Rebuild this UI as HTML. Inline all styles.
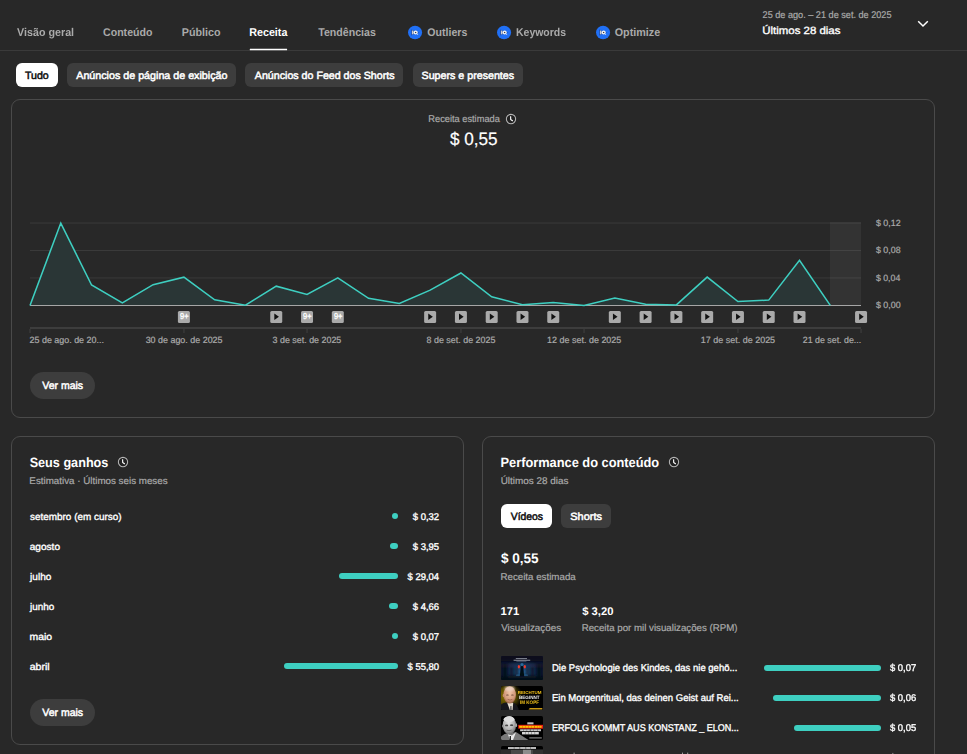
<!DOCTYPE html>
<html lang="pt-BR"><head><meta charset="utf-8"><title>Receita</title>
<style>
html,body{margin:0;padding:0;background:#282828;}
body{width:967px;height:754px;position:relative;overflow:hidden;font-family:"Liberation Sans",sans-serif;}
.abs{position:absolute;}
.t{position:absolute;white-space:pre;display:block;transform-origin:0 50%;text-rendering:geometricPrecision;}
.card{position:absolute;border:1px solid #4a4a4a;border-radius:9px;box-sizing:border-box;background:#282828;}
.chip{position:absolute;height:24px;border-radius:6px;background:#3d3d3d;}
.chip.on{background:#ffffff;}
.pill{position:absolute;height:27px;border-radius:14px;background:#3d3d3d;}
.bar{position:absolute;height:6.4px;border-radius:3.2px;background:#3ecfc1;}
</style></head><body>
<div class="abs" style="left:0;top:50px;width:967px;height:1px;background:#3a3a3a"></div>
<svg class="abs" style="left:240px;top:44px" width="60" height="10" viewBox="240 44 60 10"><rect x="249.8" y="48.65" width="37.3" height="1.6" rx="0.3" fill="#ffffff"/></svg>
<svg class="abs" style="left:916px;top:18px" width="14" height="12" viewBox="0 0 14 12"><path d="M2.2 3.2 L7 8 L11.8 3.2" fill="none" stroke="#ffffff" stroke-width="1.5"/></svg>
<svg class="abs" style="left:407px;top:24px" width="16" height="16" viewBox="-8 -8 16 16"><ellipse cx="0.05" cy="0.45" rx="7.05" ry="6.7" fill="#2070f6"/><path d="M-3.9 -2.6 L4.2 0.5 L-3.9 3.5 Z" fill="#1747a8" opacity="0.9"/><rect x="-3.1" y="-1.45" width="1.5" height="3.8" fill="#cfcfcf"/><circle cx="0.65" cy="0.5" r="2.1" fill="#f2f2f2"/><path d="M1.7 1.6 L2.9 2.8" stroke="#e8e8e8" stroke-width="0.9"/><path d="M0.1 -0.35 L1.7 0.5 L0.1 1.35 Z" fill="#0c1426"/></svg><svg class="abs" style="left:496px;top:24px" width="16" height="16" viewBox="-8 -8 16 16"><ellipse cx="0.05" cy="0.45" rx="7.05" ry="6.7" fill="#2070f6"/><path d="M-3.9 -2.6 L4.2 0.5 L-3.9 3.5 Z" fill="#1747a8" opacity="0.9"/><rect x="-3.1" y="-1.45" width="1.5" height="3.8" fill="#cfcfcf"/><circle cx="0.65" cy="0.5" r="2.1" fill="#f2f2f2"/><path d="M1.7 1.6 L2.9 2.8" stroke="#e8e8e8" stroke-width="0.9"/><path d="M0.1 -0.35 L1.7 0.5 L0.1 1.35 Z" fill="#0c1426"/></svg><svg class="abs" style="left:594.6px;top:24px" width="16" height="16" viewBox="-8 -8 16 16"><ellipse cx="0.05" cy="0.45" rx="7.05" ry="6.7" fill="#2070f6"/><path d="M-3.9 -2.6 L4.2 0.5 L-3.9 3.5 Z" fill="#1747a8" opacity="0.9"/><rect x="-3.1" y="-1.45" width="1.5" height="3.8" fill="#cfcfcf"/><circle cx="0.65" cy="0.5" r="2.1" fill="#f2f2f2"/><path d="M1.7 1.6 L2.9 2.8" stroke="#e8e8e8" stroke-width="0.9"/><path d="M0.1 -0.35 L1.7 0.5 L0.1 1.35 Z" fill="#0c1426"/></svg>
<div class="chip on" style="left:16px;top:63px;width:42px"></div>
<div class="chip" style="left:67px;top:63px;width:169px"></div>
<div class="chip" style="left:245px;top:63px;width:158px"></div>
<div class="chip" style="left:413px;top:63px;width:110px"></div>
<div class="card" style="left:11px;top:99px;width:924px;height:319px"></div>
<div class="card" style="left:11px;top:436px;width:453px;height:309px"></div>
<div class="card" style="left:482px;top:436px;width:453px;height:400px"></div>
<svg class="abs" style="left:0;top:0" width="967" height="754" viewBox="0 0 967 754">
<rect x="830" y="222.6" width="31" height="82.6" fill="#333333"/>
<g stroke="#3a3a3a" stroke-width="1">
<line x1="30" y1="223.05" x2="861" y2="223.05"/><line x1="30" y1="250.5" x2="861" y2="250.5"/><line x1="30" y1="277.95" x2="861" y2="277.95"/>
</g>
<g stroke="#434343" stroke-width="1">
<line x1="830" y1="223.05" x2="861" y2="223.05"/><line x1="830" y1="250.5" x2="861" y2="250.5"/><line x1="830" y1="277.95" x2="861" y2="277.95"/>
</g>
<polygon points="30.0,305.5 30.00,305.40 60.78,223.10 91.56,285.00 122.34,302.90 153.12,284.70 183.90,277.20 214.68,299.80 245.46,305.20 276.24,286.20 307.02,294.50 337.80,277.80 368.58,298.30 399.36,303.50 430.14,290.10 460.92,273.00 491.70,296.80 522.48,304.80 553.26,302.60 584.04,305.40 614.82,298.00 645.60,304.20 676.38,304.90 707.16,277.10 737.94,301.50 768.72,300.10 799.50,260.40 830.28,305.40 830.28,305.5" fill="#2a3636"/>
<line x1="30" y1="305.5" x2="861" y2="305.5" stroke="#a6a6a6" stroke-width="1.15"/>
<polyline points="30.00,305.40 60.78,223.10 91.56,285.00 122.34,302.90 153.12,284.70 183.90,277.20 214.68,299.80 245.46,305.20 276.24,286.20 307.02,294.50 337.80,277.80 368.58,298.30 399.36,303.50 430.14,290.10 460.92,273.00 491.70,296.80 522.48,304.80 553.26,302.60 584.04,305.40 614.82,298.00 645.60,304.20 676.38,304.90 707.16,277.10 737.94,301.50 768.72,300.10 799.50,260.40 830.28,305.40" fill="none" stroke="#3ecfc1" stroke-width="1.55" stroke-linejoin="miter" stroke-miterlimit="6" stroke-linecap="butt"/>
<rect x="30" y="327" width="831" height="2" fill="#3d3d3d"/>
<rect x="29.25" y="329" width="1.5" height="4" fill="#393939"/><rect x="183.15" y="329" width="1.5" height="4" fill="#393939"/><rect x="306.27" y="329" width="1.5" height="4" fill="#393939"/><rect x="460.17" y="329" width="1.5" height="4" fill="#393939"/><rect x="583.29" y="329" width="1.5" height="4" fill="#393939"/><rect x="737.19" y="329" width="1.5" height="4" fill="#393939"/><rect x="860.31" y="329" width="1.5" height="4" fill="#393939"/>
<rect x="177.90" y="311" width="12" height="12" rx="1.5" fill="#aaaaaa"/><text x="180.00" y="319.3" font-family="Liberation Sans, sans-serif" font-size="8.6" fill="#fff" stroke="#fff" stroke-width="0.35" textLength="8.5" lengthAdjust="spacingAndGlyphs" style="text-rendering:geometricPrecision">9+</text><rect x="270.24" y="311" width="12" height="12" rx="1.5" fill="#aaaaaa"/><path d="M274.34 313.6 L278.94 316.85 L274.34 320.1 Z" fill="#111111"/><rect x="301.02" y="311" width="12" height="12" rx="1.5" fill="#aaaaaa"/><text x="303.12" y="319.3" font-family="Liberation Sans, sans-serif" font-size="8.6" fill="#fff" stroke="#fff" stroke-width="0.35" textLength="8.5" lengthAdjust="spacingAndGlyphs" style="text-rendering:geometricPrecision">9+</text><rect x="331.80" y="311" width="12" height="12" rx="1.5" fill="#aaaaaa"/><text x="333.90" y="319.3" font-family="Liberation Sans, sans-serif" font-size="8.6" fill="#fff" stroke="#fff" stroke-width="0.35" textLength="8.5" lengthAdjust="spacingAndGlyphs" style="text-rendering:geometricPrecision">9+</text><rect x="424.14" y="311" width="12" height="12" rx="1.5" fill="#aaaaaa"/><path d="M428.24 313.6 L432.84 316.85 L428.24 320.1 Z" fill="#111111"/><rect x="454.92" y="311" width="12" height="12" rx="1.5" fill="#aaaaaa"/><path d="M459.02 313.6 L463.62 316.85 L459.02 320.1 Z" fill="#111111"/><rect x="485.70" y="311" width="12" height="12" rx="1.5" fill="#aaaaaa"/><path d="M489.80 313.6 L494.40 316.85 L489.80 320.1 Z" fill="#111111"/><rect x="516.48" y="311" width="12" height="12" rx="1.5" fill="#aaaaaa"/><path d="M520.58 313.6 L525.18 316.85 L520.58 320.1 Z" fill="#111111"/><rect x="547.26" y="311" width="12" height="12" rx="1.5" fill="#aaaaaa"/><path d="M551.36 313.6 L555.96 316.85 L551.36 320.1 Z" fill="#111111"/><rect x="608.82" y="311" width="12" height="12" rx="1.5" fill="#aaaaaa"/><path d="M612.92 313.6 L617.52 316.85 L612.92 320.1 Z" fill="#111111"/><rect x="639.60" y="311" width="12" height="12" rx="1.5" fill="#aaaaaa"/><path d="M643.70 313.6 L648.30 316.85 L643.70 320.1 Z" fill="#111111"/><rect x="670.38" y="311" width="12" height="12" rx="1.5" fill="#aaaaaa"/><path d="M674.48 313.6 L679.08 316.85 L674.48 320.1 Z" fill="#111111"/><rect x="701.16" y="311" width="12" height="12" rx="1.5" fill="#aaaaaa"/><path d="M705.26 313.6 L709.86 316.85 L705.26 320.1 Z" fill="#111111"/><rect x="731.94" y="311" width="12" height="12" rx="1.5" fill="#aaaaaa"/><path d="M736.04 313.6 L740.64 316.85 L736.04 320.1 Z" fill="#111111"/><rect x="762.72" y="311" width="12" height="12" rx="1.5" fill="#aaaaaa"/><path d="M766.82 313.6 L771.42 316.85 L766.82 320.1 Z" fill="#111111"/><rect x="793.50" y="311" width="12" height="12" rx="1.5" fill="#aaaaaa"/><path d="M797.60 313.6 L802.20 316.85 L797.60 320.1 Z" fill="#111111"/><rect x="855.06" y="311" width="12" height="12" rx="1.5" fill="#aaaaaa"/><path d="M859.16 313.6 L863.76 316.85 L859.16 320.1 Z" fill="#111111"/>
</svg>
<svg class="abs" style="left:504.1px;top:112px" width="14" height="14" viewBox="-7 -7 14 14"><circle r="4.65" fill="#222222" stroke="#b6b6b6" stroke-width="1.05"/><path d="M-0.4 -2.8 L-0.3 0.5 L1.8 1.9" fill="none" stroke="#ffffff" stroke-width="1.15" stroke-linejoin="round"/></svg><svg class="abs" style="left:115.95px;top:455px" width="14" height="14" viewBox="-7 -7 14 14"><circle r="4.65" fill="#222222" stroke="#b6b6b6" stroke-width="1.05"/><path d="M-0.4 -2.8 L-0.3 0.5 L1.8 1.9" fill="none" stroke="#ffffff" stroke-width="1.15" stroke-linejoin="round"/></svg><svg class="abs" style="left:666.9px;top:454.9px" width="14" height="14" viewBox="-7 -7 14 14"><circle r="4.65" fill="#222222" stroke="#b6b6b6" stroke-width="1.05"/><path d="M-0.4 -2.8 L-0.3 0.5 L1.8 1.9" fill="none" stroke="#ffffff" stroke-width="1.15" stroke-linejoin="round"/></svg>
<div class="pill" style="left:30px;top:372px;width:65px"></div>
<div class="pill" style="left:30px;top:699px;width:65px"></div>
<div class="chip on" style="left:501px;top:504px;width:51px"></div>
<div class="chip" style="left:561px;top:504px;width:50px"></div>
<div class="bar" style="left:391.8px;top:512.8px;width:6.4px"></div><div class="bar" style="left:390.2px;top:542.8px;width:8.0px"></div><div class="bar" style="left:339px;top:572.8px;width:59.2px"></div><div class="bar" style="left:388.6px;top:602.8px;width:9.6px"></div><div class="bar" style="left:391.8px;top:632.8px;width:6.4px"></div><div class="bar" style="left:283.9px;top:662.8px;width:114.3px"></div><div class="bar" style="left:763.9px;top:664.8px;width:117.2px"></div><div class="bar" style="left:773px;top:694.8px;width:108.1px"></div><div class="bar" style="left:793.8px;top:724.8px;width:87.3px"></div>
<svg class="abs" style="left:501px;top:656px" width="42" height="24" viewBox="0 0 42 24">
<defs>
<clipPath id="tc"><rect x="0" y="0" width="42" height="24" rx="1.6"/></clipPath>
<radialGradient id="g1" cx="50%" cy="66%" r="52%"><stop offset="0" stop-color="#2a6597"/><stop offset="0.4" stop-color="#183e68"/><stop offset="1" stop-color="#0c1730"/></radialGradient>
<filter id="b1" x="-30%" y="-30%" width="160%" height="160%"><feGaussianBlur stdDeviation="1.0"/></filter>
<filter id="b05" x="-20%" y="-20%" width="140%" height="140%"><feGaussianBlur stdDeviation="0.35"/></filter>
</defs>
<g clip-path="url(#tc)">
<rect width="42" height="24" fill="#0a0f20"/>
<rect width="42" height="24" fill="url(#g1)"/>
<g filter="url(#b1)">
<rect x="-2" y="-2" width="46" height="7.5" fill="#080c1a"/>
<rect x="1.5" y="8" width="5" height="13" fill="#070b18" opacity="0.9"/>
<rect x="8.5" y="10.5" width="4" height="10" fill="#0a1224" opacity="0.8"/>
<rect x="14" y="11.5" width="3" height="8" fill="#0c1830" opacity="0.7"/>
<rect x="25" y="11.5" width="3" height="8" fill="#0c1830" opacity="0.7"/>
<rect x="29.5" y="10.5" width="4" height="10" fill="#0a1224" opacity="0.8"/>
<rect x="35.5" y="8" width="5" height="13" fill="#070b18" opacity="0.9"/>
<rect x="-2" y="21" width="46" height="5" fill="#060a16"/>
<rect x="7" y="19.6" width="28" height="2.4" fill="#0a1222"/>
</g>
<g filter="url(#b05)">
<ellipse cx="17.3" cy="19.2" rx="2.4" ry="0.9" fill="#2f78aa" opacity="0.5"/>
<ellipse cx="24.7" cy="19.2" rx="2.4" ry="0.9" fill="#2f78aa" opacity="0.5"/>
<path d="M18.8 20.5 L19.7 11.5 Q21 7.4 22.3 11.5 L23.2 20.5 Z" fill="#050912"/>
<circle cx="21" cy="8.4" r="1.5" fill="#2a6c9c"/>
<ellipse cx="17.9" cy="10.7" rx="1.15" ry="1.75" fill="#f23a2c"/>
<ellipse cx="23.8" cy="10.7" rx="1.15" ry="1.75" fill="#f23a2c"/>
<rect x="14.8" y="2.15" width="11.2" height="0.7" fill="#e8eef8" opacity="0.7"/>
<rect x="12.6" y="3.75" width="16.6" height="1.0" fill="#e8eef8" opacity="0.6"/>
<rect x="15.4" y="4.9" width="10" height="0.7" fill="#c8d4e8" opacity="0.4"/>
</g>
<rect x="0" y="8.5" width="14" height="2.6" fill="#8a3050" opacity="0.16" filter="url(#b1)"/>
<rect x="28" y="8.5" width="14" height="2.6" fill="#8a3050" opacity="0.16" filter="url(#b1)"/>
</g>
</svg>
<svg class="abs" style="left:501px;top:686px" width="42" height="24" viewBox="0 0 42 24">
<defs>
<radialGradient id="g2" cx="20%" cy="42%" r="58%"><stop offset="0" stop-color="#8f7800"/><stop offset="0.55" stop-color="#5a4c00"/><stop offset="1" stop-color="#000000"/></radialGradient>
<radialGradient id="skin2" cx="50%" cy="40%" r="60%"><stop offset="0" stop-color="#efc2a4"/><stop offset="0.7" stop-color="#d29a7a"/><stop offset="1" stop-color="#9a6248"/></radialGradient>
</defs>
<g clip-path="url(#tc)">
<rect width="42" height="24" fill="#000"/>
<rect width="28" height="24" fill="url(#g2)"/>
<g filter="url(#b05)">
<path d="M0 24 L0 18.5 Q3 16.2 6 16.6 L12 16.6 Q16 17.5 17.8 24 Z" fill="#17171a"/>
<path d="M6.2 16.8 L8.8 24 L11.6 24 L12.2 16.8 Z" fill="#e4dcd0"/>
<path d="M9.2 20 L8.8 24 L10.8 24 L10.6 20 Z" fill="#6b6b6b"/>
<ellipse cx="8.7" cy="8.9" rx="6.3" ry="8.6" fill="url(#skin2)"/>
<ellipse cx="8.6" cy="2.6" rx="5.0" ry="2.6" fill="#f3dfd2" opacity="0.75" filter="url(#b1)"/>
<ellipse cx="2.6" cy="9.4" rx="0.9" ry="1.7" fill="#c98f72"/>
<ellipse cx="6.4" cy="9.0" rx="1.4" ry="0.55" fill="#6b4636"/>
<ellipse cx="11.4" cy="9.0" rx="1.4" ry="0.55" fill="#6b4636"/>
<path d="M6.6 13.4 Q9 14.8 11.4 13.4" stroke="#8a4e3e" stroke-width="0.7" fill="none"/>
</g>
<g font-family="Liberation Sans, sans-serif" font-weight="700" filter="url(#b05)" style="text-rendering:geometricPrecision">
<text x="16.8" y="8.3" font-size="4.3" fill="#f2c21a" textLength="23.6" lengthAdjust="spacingAndGlyphs">REICHTUM</text>
<text x="18" y="13.2" font-size="4.6" fill="#f4f4f4" textLength="20.5" lengthAdjust="spacingAndGlyphs">BEGINNT</text>
<text x="19" y="18" font-size="5" fill="#f2c21a" textLength="19" lengthAdjust="spacingAndGlyphs">IM KOPF</text>
</g>
<path d="M27.5 23.4 L28.8 21.9 L41.3 21.9 L41.3 23.4 Z" fill="#c99a14" filter="url(#b05)"/>
</g>
</svg>
<svg class="abs" style="left:501px;top:716px" width="42" height="24" viewBox="0 0 42 24">
<defs>
<radialGradient id="skin3" cx="45%" cy="35%" r="65%"><stop offset="0" stop-color="#e2e2e2"/><stop offset="0.6" stop-color="#b4b4b4"/><stop offset="1" stop-color="#6c6c6c"/></radialGradient>
</defs>
<g clip-path="url(#tc)">
<rect width="42" height="24" fill="#000"/>
<g filter="url(#b05)">
<path d="M0 24 L0 20.5 Q4 17 8 17.4 L15 16 L27.5 24 Z" fill="#7a7a7a"/>
<path d="M6.8 18 L9 24 L12 24 L15 16.3 L11 19.5 Z" fill="#e9e9e9"/>
<path d="M8.7 20 L8.4 24 L10 24 L10 20 Z" fill="#2b2b2b"/>
<ellipse cx="8.4" cy="9.3" rx="6.7" ry="9.2" fill="url(#skin3)"/>
<ellipse cx="8.0" cy="3.2" rx="5.4" ry="2.9" fill="#dedede"/>
<ellipse cx="15.2" cy="9.2" rx="0.9" ry="1.9" fill="#a8a8a8"/>
<ellipse cx="1.8" cy="10" rx="0.8" ry="1.6" fill="#8c8c8c"/>
<ellipse cx="5.6" cy="9.4" rx="1.6" ry="0.9" fill="#4a4a4a"/>
<ellipse cx="10.6" cy="9.2" rx="1.6" ry="0.9" fill="#4a4a4a"/>
<path d="M5.6 14.2 Q8 15.2 10.6 14.1" stroke="#5a5a5a" stroke-width="0.8" fill="none"/>
</g>
<g filter="url(#b05)">
<rect x="26.3" y="6.3" width="6.2" height="2.1" fill="#e6e6e6" opacity="0.85"/>
<rect x="17.2" y="8.8" width="24.8" height="3.9" fill="#e31a12"/>
<rect x="18.2" y="9.8" width="22.4" height="2" fill="#ffc800"/>
<rect x="19.1" y="13.3" width="20.9" height="1.9" fill="#e8e8e8" opacity="0.85"/>
<rect x="21" y="16" width="16.8" height="2.4" fill="#ececec" opacity="0.9"/>
<rect x="28.3" y="21.3" width="12.5" height="1.2" fill="#bdbdbd" opacity="0.7"/>
</g>
<g fill="#d01a10" opacity="0.55"><rect x="21" y="9.8" width="0.6" height="2"/><rect x="24.2" y="9.8" width="0.5" height="2"/><rect x="27" y="9.8" width="0.6" height="2"/><rect x="30.3" y="9.8" width="0.5" height="2"/><rect x="33" y="9.8" width="0.9" height="2"/><rect x="36.2" y="9.8" width="0.5" height="2"/><rect x="38.6" y="9.8" width="0.5" height="2"/></g>
<g fill="#000" opacity="0.5"><rect x="22.5" y="13.3" width="0.5" height="1.9"/><rect x="25.6" y="13.3" width="0.5" height="1.9"/><rect x="28.8" y="13.3" width="0.9" height="1.9"/><rect x="32.5" y="13.3" width="0.5" height="1.9"/><rect x="36" y="13.3" width="0.5" height="1.9"/><rect x="24" y="16" width="0.5" height="2.4"/><rect x="27.2" y="16" width="0.5" height="2.4"/><rect x="30.4" y="16" width="0.5" height="2.4"/><rect x="33.6" y="16" width="0.5" height="2.4"/></g>
</g>
</svg>
<svg class="abs" style="left:501px;top:746px" width="42" height="24" viewBox="0 0 42 24">
<g clip-path="url(#tc)">
<rect width="42" height="24" fill="#000"/>
<rect x="0" y="3.6" width="42" height="20" fill="#4a4a4a"/>
<g filter="url(#b05)">
<rect x="7" y="1.1" width="28" height="1.8" fill="#e4e4e4" opacity="0.9"/>
<rect x="0" y="4" width="10" height="6" fill="#2e2e2e"/>
<rect x="22" y="3.8" width="8" height="6" fill="#8c8c8c"/>
<rect x="32" y="4" width="10" height="6" fill="#333"/>
</g>
<g fill="#000" opacity="0.55"><rect x="12.8" y="1.1" width="0.6" height="1.8"/><rect x="18.4" y="1.1" width="0.8" height="1.8"/><rect x="24.4" y="1.1" width="0.8" height="1.8"/><rect x="29.2" y="1.1" width="0.6" height="1.8"/></g>
</g>
</svg>

<svg class="abs" style="left:0;top:750px" width="967" height="4" viewBox="0 750 967 4"><g fill="#ffffff" opacity="0.55"><rect x="573.6" y="752.6" width="1" height="1.4"/><rect x="682" y="752.6" width="1" height="1.4"/><rect x="687.2" y="752.6" width="1" height="1.4"/><rect x="892.4" y="752.9" width="0.9" height="1.1"/></g></svg>
<span class="t" style="left:17px;top:25px;height:16px;line-height:16px;font-size:11.25px;font-weight:700;color:#aaaaaa;transform:translateX(0.00px) scaleX(0.9542)">Visão geral</span><span class="t" style="left:103px;top:25px;height:16px;line-height:16px;font-size:11.25px;font-weight:700;color:#aaaaaa;transform:translateX(0.03px) scaleX(0.9411)">Conteúdo</span><span class="t" style="left:181px;top:25px;height:16px;line-height:16px;font-size:11.25px;font-weight:700;color:#aaaaaa;transform:translateX(0.78px) scaleX(0.9544)">Público</span><span class="t" style="left:249px;top:25px;height:16px;line-height:16px;font-size:11.25px;font-weight:700;color:#fff;transform:translateX(0.18px) scaleX(0.9544)">Receita</span><span class="t" style="left:318px;top:25px;height:16px;line-height:16px;font-size:11.25px;font-weight:700;color:#aaaaaa;transform:translateX(0.20px) scaleX(0.9432)">Tendências</span><span class="t" style="left:427px;top:25px;height:16px;line-height:16px;font-size:11.25px;font-weight:700;color:#aaaaaa;transform:translateX(0.33px) scaleX(0.9398)">Outliers</span><span class="t" style="left:516px;top:25px;height:16px;line-height:16px;font-size:11.25px;font-weight:700;color:#aaaaaa;transform:translateX(0.00px) scaleX(0.9314)">Keywords</span><span class="t" style="left:614px;top:25px;height:16px;line-height:16px;font-size:11.25px;font-weight:700;color:#aaaaaa;transform:translateX(0.72px) scaleX(0.9561)">Optimize</span><span class="t" style="left:762px;top:9px;height:14px;line-height:14px;font-size:9.75px;font-weight:400;-webkit-text-stroke:0.2px #aaaaaa;color:#aaaaaa;transform:translateX(0.57px) scaleX(0.9362)">25 de ago. – 21 de set. de 2025</span><span class="t" style="left:762px;top:24px;height:15px;line-height:15px;font-size:10.5px;font-weight:400;-webkit-text-stroke:0.35px #fff;color:#fff;transform:translateX(0.26px) scaleX(1.0887)">Últimos 28 dias</span><span class="t" style="left:24px;top:69px;height:15px;line-height:15px;font-size:10.5px;font-weight:400;-webkit-text-stroke:0.5px #0f0f0f;color:#0f0f0f;transform:translateX(0.90px) scaleX(1.0128)">Tudo</span><span class="t" style="left:76px;top:69px;height:15px;line-height:15px;font-size:10.5px;font-weight:400;-webkit-text-stroke:0.5px #fff;color:#fff;transform:translateX(0.25px) scaleX(1.0195)">Anúncios de página de exibição</span><span class="t" style="left:254px;top:69px;height:15px;line-height:15px;font-size:10.5px;font-weight:400;-webkit-text-stroke:0.5px #fff;color:#fff;transform:translateX(0.85px) scaleX(1.0138)">Anúncios do Feed dos Shorts</span><span class="t" style="left:421px;top:69px;height:15px;line-height:15px;font-size:10.5px;font-weight:400;-webkit-text-stroke:0.5px #fff;color:#fff;transform:translateX(0.55px) scaleX(1.0160)">Supers e presentes</span><span class="t" style="left:428px;top:113px;height:14px;line-height:14px;font-size:9.75px;font-weight:400;-webkit-text-stroke:0.2px #aaaaaa;color:#aaaaaa;transform:translateX(0.29px) scaleX(0.9498)">Receita estimada</span><span class="t" style="left:449px;top:127px;height:25px;line-height:25px;font-size:18px;font-weight:400;-webkit-text-stroke:0.2px #fff;color:#fff;transform:translateX(0.90px) scaleX(0.9535)">$ 0,55</span><span class="t" style="left:875px;top:217px;height:13px;line-height:13px;font-size:9px;font-weight:400;-webkit-text-stroke:0.2px #aaaaaa;color:#aaaaaa;transform:translateX(0.90px) scaleX(0.9859)">$ 0,12</span><span class="t" style="left:875px;top:244px;height:13px;line-height:13px;font-size:9px;font-weight:400;-webkit-text-stroke:0.2px #aaaaaa;color:#aaaaaa;transform:translateX(0.90px) scaleX(0.9859)">$ 0,08</span><span class="t" style="left:875px;top:272px;height:13px;line-height:13px;font-size:9px;font-weight:400;-webkit-text-stroke:0.2px #aaaaaa;color:#aaaaaa;transform:translateX(0.90px) scaleX(0.9760)">$ 0,04</span><span class="t" style="left:875px;top:299px;height:13px;line-height:13px;font-size:9px;font-weight:400;-webkit-text-stroke:0.2px #aaaaaa;color:#aaaaaa;transform:translateX(0.90px) scaleX(0.9859)">$ 0,00</span><span class="t" style="left:29px;top:334px;height:13px;line-height:13px;font-size:9px;font-weight:400;-webkit-text-stroke:0.2px #aaaaaa;color:#aaaaaa;transform:translateX(0.55px) scaleX(0.9899)">25 de ago. de 20...</span><span class="t" style="left:145px;top:334px;height:13px;line-height:13px;font-size:9px;font-weight:400;-webkit-text-stroke:0.2px #aaaaaa;color:#aaaaaa;transform:translateX(0.65px) scaleX(0.9909)">30 de ago. de 2025</span><span class="t" style="left:272px;top:334px;height:13px;line-height:13px;font-size:9px;font-weight:400;-webkit-text-stroke:0.2px #aaaaaa;color:#aaaaaa;transform:translateX(0.55px) scaleX(0.9884)">3 de set. de 2025</span><span class="t" style="left:426px;top:334px;height:13px;line-height:13px;font-size:9px;font-weight:400;-webkit-text-stroke:0.2px #aaaaaa;color:#aaaaaa;transform:translateX(0.55px) scaleX(0.9899)">8 de set. de 2025</span><span class="t" style="left:547px;top:334px;height:13px;line-height:13px;font-size:9px;font-weight:400;-webkit-text-stroke:0.2px #aaaaaa;color:#aaaaaa;transform:translateX(0.10px) scaleX(0.9953)">12 de set. de 2025</span><span class="t" style="left:700px;top:334px;height:13px;line-height:13px;font-size:9px;font-weight:400;-webkit-text-stroke:0.2px #aaaaaa;color:#aaaaaa;transform:translateX(0.80px) scaleX(0.9966)">17 de set. de 2025</span><span class="t" style="left:802px;top:334px;height:13px;line-height:13px;font-size:9px;font-weight:400;-webkit-text-stroke:0.2px #aaaaaa;color:#aaaaaa;transform:translateX(0.75px) scaleX(0.9821)">21 de set. de...</span><span class="t" style="left:42px;top:379px;height:15px;line-height:15px;font-size:10.5px;font-weight:400;-webkit-text-stroke:0.5px #fff;color:#fff;transform:translateX(0.25px) scaleX(1.0000)">Ver mais</span><span class="t" style="left:29px;top:453px;height:19px;line-height:19px;font-size:13.5px;font-weight:700;color:#fff;transform:translateX(0.63px) scaleX(0.9373)">Seus ganhos</span><span class="t" style="left:29px;top:475px;height:14px;line-height:14px;font-size:9.75px;font-weight:400;-webkit-text-stroke:0.2px #aaaaaa;color:#aaaaaa;transform:translateX(0.35px) scaleX(1.0048)">Estimativa · Últimos seis meses</span><span class="t" style="left:30px;top:511px;height:14px;line-height:14px;font-size:9.75px;font-weight:400;-webkit-text-stroke:0.35px #fff;color:#fff;transform:translateX(0.10px) scaleX(1.0156)">setembro (em curso)</span><span class="t" style="left:412px;top:511px;height:14px;line-height:14px;font-size:9.75px;font-weight:400;-webkit-text-stroke:0.35px #fff;color:#fff;transform:translateX(0.80px) scaleX(0.9704)">$ 0,32</span><span class="t" style="left:29px;top:541px;height:14px;line-height:14px;font-size:9.75px;font-weight:400;-webkit-text-stroke:0.35px #fff;color:#fff;transform:translateX(0.74px) scaleX(1.0345)">agosto</span><span class="t" style="left:412px;top:541px;height:14px;line-height:14px;font-size:9.75px;font-weight:400;-webkit-text-stroke:0.35px #fff;color:#fff;transform:translateX(0.80px) scaleX(0.9704)">$ 3,95</span><span class="t" style="left:30px;top:571px;height:14px;line-height:14px;font-size:9.75px;font-weight:400;-webkit-text-stroke:0.35px #fff;color:#fff;transform:translateX(0.11px) scaleX(1.0286)">julho</span><span class="t" style="left:407px;top:571px;height:14px;line-height:14px;font-size:9.75px;font-weight:400;-webkit-text-stroke:0.35px #fff;color:#fff;transform:translateX(0.50px) scaleX(0.9692)">$ 29,04</span><span class="t" style="left:30px;top:601px;height:14px;line-height:14px;font-size:9.75px;font-weight:400;-webkit-text-stroke:0.35px #fff;color:#fff;transform:translateX(0.11px) scaleX(1.0144)">junho</span><span class="t" style="left:412px;top:601px;height:14px;line-height:14px;font-size:9.75px;font-weight:400;-webkit-text-stroke:0.35px #fff;color:#fff;transform:translateX(0.80px) scaleX(0.9704)">$ 4,66</span><span class="t" style="left:29px;top:631px;height:14px;line-height:14px;font-size:9.75px;font-weight:400;-webkit-text-stroke:0.35px #fff;color:#fff;transform:translateX(0.47px) scaleX(1.0683)">maio</span><span class="t" style="left:412px;top:631px;height:14px;line-height:14px;font-size:9.75px;font-weight:400;-webkit-text-stroke:0.35px #fff;color:#fff;transform:translateX(0.80px) scaleX(0.9704)">$ 0,07</span><span class="t" style="left:29px;top:661px;height:14px;line-height:14px;font-size:9.75px;font-weight:400;-webkit-text-stroke:0.35px #fff;color:#fff;transform:translateX(0.73px) scaleX(1.0817)">abril</span><span class="t" style="left:407px;top:661px;height:14px;line-height:14px;font-size:9.75px;font-weight:400;-webkit-text-stroke:0.35px #fff;color:#fff;transform:translateX(0.50px) scaleX(0.9692)">$ 55,80</span><span class="t" style="left:42px;top:706px;height:15px;line-height:15px;font-size:10.5px;font-weight:400;-webkit-text-stroke:0.5px #fff;color:#fff;transform:translateX(0.25px) scaleX(1.0000)">Ver mais</span><span class="t" style="left:500px;top:453px;height:19px;line-height:19px;font-size:13.5px;font-weight:700;color:#fff;transform:translateX(0.49px) scaleX(0.9488)">Performance do conteúdo</span><span class="t" style="left:500px;top:475px;height:14px;line-height:14px;font-size:9.75px;font-weight:400;-webkit-text-stroke:0.2px #aaaaaa;color:#aaaaaa;transform:translateX(0.69px) scaleX(1.0152)">Últimos 28 dias</span><span class="t" style="left:510px;top:510px;height:15px;line-height:15px;font-size:10.5px;font-weight:400;-webkit-text-stroke:0.5px #0f0f0f;color:#0f0f0f;transform:translateX(0.75px) scaleX(0.9879)">Vídeos</span><span class="t" style="left:570px;top:510px;height:15px;line-height:15px;font-size:10.5px;font-weight:400;-webkit-text-stroke:0.5px #fff;color:#fff;transform:translateX(0.24px) scaleX(1.0433)">Shorts</span><span class="t" style="left:500px;top:548px;height:20px;line-height:20px;font-size:14px;font-weight:700;color:#fff;transform:translateX(0.96px) scaleX(0.9673)">$ 0,55</span><span class="t" style="left:500px;top:571px;height:14px;line-height:14px;font-size:9.75px;font-weight:400;-webkit-text-stroke:0.2px #aaaaaa;color:#aaaaaa;transform:translateX(0.45px) scaleX(0.9993)">Receita estimada</span><span class="t" style="left:500px;top:604px;height:16px;line-height:16px;font-size:11.25px;font-weight:700;color:#fff;transform:translateX(0.45px) scaleX(1.0028)">171</span><span class="t" style="left:582px;top:604px;height:16px;line-height:16px;font-size:11.25px;font-weight:700;color:#fff;transform:translateX(0.15px) scaleX(1.0000)">$ 3,20</span><span class="t" style="left:501px;top:622px;height:14px;line-height:14px;font-size:9.75px;font-weight:400;-webkit-text-stroke:0.2px #aaaaaa;color:#aaaaaa;transform:translateX(0.20px) scaleX(1.0076)">Visualizações</span><span class="t" style="left:581px;top:622px;height:14px;line-height:14px;font-size:9.75px;font-weight:400;-webkit-text-stroke:0.2px #aaaaaa;color:#aaaaaa;transform:translateX(0.65px) scaleX(0.9955)">Receita por mil visualizações (RPM)</span><span class="t" style="left:551px;top:662px;height:14px;line-height:14px;font-size:9.75px;font-weight:400;-webkit-text-stroke:0.35px #fff;color:#fff;transform:translateX(0.91px) scaleX(0.9749)">Die Psychologie des Kindes, das nie gehö...</span><span class="t" style="left:890px;top:662px;height:14px;line-height:14px;font-size:9.75px;font-weight:400;-webkit-text-stroke:0.35px #fff;color:#fff;transform:translateX(0.00px) scaleX(0.9667)">$ 0,07</span><span class="t" style="left:551px;top:692px;height:14px;line-height:14px;font-size:9.75px;font-weight:400;-webkit-text-stroke:0.35px #fff;color:#fff;transform:translateX(0.91px) scaleX(0.9766)">Ein Morgenritual, das deinen Geist auf Rei...</span><span class="t" style="left:890px;top:692px;height:14px;line-height:14px;font-size:9.75px;font-weight:400;-webkit-text-stroke:0.35px #fff;color:#fff;transform:translateX(0.00px) scaleX(0.9667)">$ 0,06</span><span class="t" style="left:551px;top:722px;height:14px;line-height:14px;font-size:9.75px;font-weight:400;-webkit-text-stroke:0.35px #fff;color:#fff;transform:translateX(0.94px) scaleX(0.9267)">ERFOLG KOMMT AUS KONSTANZ _ ELON...</span><span class="t" style="left:890px;top:722px;height:14px;line-height:14px;font-size:9.75px;font-weight:400;-webkit-text-stroke:0.35px #fff;color:#fff;transform:translateX(0.00px) scaleX(0.9667)">$ 0,05</span>
</body></html>
